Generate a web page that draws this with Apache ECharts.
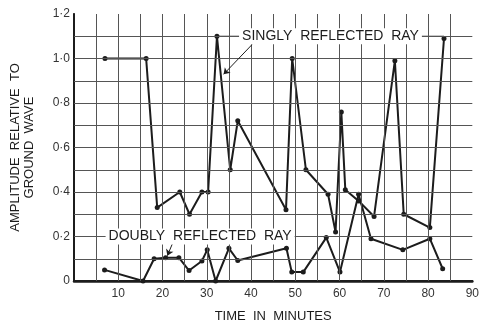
<!DOCTYPE html>
<html>
<head>
<meta charset="utf-8">
<script src="https://cdn.jsdelivr.net/npm/echarts@6/dist/echarts.min.js"></script>
<style>
  html, body { margin: 0; padding: 0; background: #fff; }
  #chart { width: 482px; height: 328px; }
</style>
</head>
<body>
<div id="chart"></div>
<script>
// values: [minutes, amplitude]
const singlyRay = [
  [7, 1.0], [16.3, 1.0], [18.8, 0.33], [23.9, 0.40], [26.1, 0.30], [28.9, 0.40],
  [30.3, 0.40], [32.3, 1.1], [35.3, 0.50], [37, 0.72], [47.9, 0.32], [49.3, 1.0],
  [52.4, 0.50], [57.4, 0.39], [59.1, 0.22], [60.4, 0.76], [61.3, 0.41], [64.3, 0.36],
  [67.8, 0.29], [72.5, 0.99], [74.5, 0.30], [80.4, 0.24], [83.6, 1.09]
];
const doublyRay = [
  [6.9, 0.05], [15.6, 0], [18.1, 0.10], [20.7, 0.105], [23.7, 0.105], [26, 0.047],
  [28.9, 0.09], [30.1, 0.14], [32, 0], [35, 0.147], [37, 0.092], [48, 0.147],
  [49.2, 0.04], [51.8, 0.04], [57, 0.195], [60.1, 0.04], [64.3, 0.39], [67.1, 0.19],
  [74.3, 0.14], [80.4, 0.19], [83.3, 0.055]
];
const xTicks = { min: 0, max: 90, step: 10 };
const yTicks = { min: 0, max: 1.2, step: 0.2 };
// graph-paper rulings (every 5 minutes, every 0.1)
const xRulings = [5, 10, 15, 20, 25, 30, 35, 40, 45, 50, 55, 60, 65, 70, 75, 80, 85];
const yRulings = [0.1, 0.2, 0.3, 0.4, 0.5, 0.6, 0.7, 0.8, 0.9, 1.0, 1.1];

// annotation leaders and arrows, in data units
const singlyLeader = [[32.3, 1.1], [83.6, 1.1]];
const singlyArrow = [[40.2, 1.062], [33.8, 0.929]];
const doublyLeader = [[0, 0.2], [57, 0.2]];
const doublyArrow = [[22.2, 0.166], [21.1, 0.114]];

const font = '"Liberation Sans", Arial, sans-serif';
const ink = '#1c1c1c';
const gridColor = '#555';

function leaderSeries(leader, text) {
  return {
    type: 'line',
    data: leader,
    symbol: 'none',
    silent: true,
    z: 3,
    lineStyle: { color: ink, width: 1 },
    markPoint: {
      silent: true,
      symbol: 'rect',
      symbolSize: 1,
      itemStyle: { color: 'transparent' },
      data: [{ coord: [(leader[0][0] + leader[1][0]) / 2, leader[0][1]] }],
      label: {
        show: true,
        position: 'inside',
        formatter: text,
        color: ink,
        fontFamily: font,
        fontSize: 14,
        backgroundColor: '#fff',
        padding: [1, 3]
      }
    }
  };
}

function arrowMark(arrow) {
  return {
    silent: true,
    animation: false,
    symbol: ['none', 'arrow'],
    symbolSize: 6,
    label: { show: false },
    lineStyle: { color: ink, width: 1, type: 'solid' },
    data: [[{ coord: arrow[0] }, { coord: arrow[1] }]]
  };
}

// top and right edges of the frame
function frameAxis(position, ticks, width) {
  return {
    type: 'value', position: position,
    min: ticks.min, max: ticks.max, interval: ticks.step,
    axisLine: { show: true, lineStyle: { color: ink, width: width } },
    axisTick: { show: false },
    axisLabel: { show: false },
    splitLine: { show: false }
  };
}

const chart = echarts.init(document.getElementById('chart'));
chart.setOption({
  animation: false,
  grid: { left: 74, right: 6, top: 14, bottom: 44 },
  xAxis: [{
    type: 'value',
    min: xTicks.min, max: xTicks.max, interval: xTicks.step,
    name: 'TIME  IN  MINUTES',
    nameLocation: 'middle',
    nameGap: 29,
    nameTextStyle: { color: ink, fontFamily: font, fontSize: 13 },
    axisLine: { show: true, lineStyle: { color: ink, width: 2.5 } },
    axisTick: { show: false },
    axisLabel: {
      color: '#333', fontFamily: font, fontSize: 12, margin: 7,
      formatter: v => (v === 0 ? '' : String(v))
    },
    splitLine: { show: false }
  }, frameAxis('top', xTicks, 2)],
  yAxis: [{
    type: 'value',
    min: yTicks.min, max: yTicks.max, interval: yTicks.step,
    name: 'AMPLITUDE  RELATIVE  TO\nGROUND  WAVE',
    nameLocation: 'middle',
    nameRotate: 90,
    nameGap: 38,
    nameTextStyle: { color: ink, fontFamily: font, fontSize: 13, lineHeight: 14 },
    axisLine: { show: true, lineStyle: { color: ink, width: 2 } },
    axisTick: { show: false },
    axisLabel: {
      color: '#333', fontFamily: font, fontSize: 12, margin: 4,
      formatter: v => (v === 0 ? '0' : v.toFixed(1).replace('.', '\u00b7'))
    },
    splitLine: { show: false }
  }, frameAxis('right', yTicks, 1.5)],
  series: [
    {
      // the ruled paper behind the curves
      name: 'rulings',
      type: 'line',
      data: [[0, 0]],
      symbol: 'none',
      silent: true,
      z: 1,
      lineStyle: { width: 0 },
      markLine: {
        silent: true,
        animation: false,
        symbol: 'none',
        label: { show: false },
        lineStyle: { color: gridColor, width: 1, type: 'solid' },
        data: xRulings.map(v => ({ xAxis: v })).concat(yRulings.map(v => ({ yAxis: v })))
      }
    },
    {
      name: 'Singly reflected ray',
      type: 'line',
      data: singlyRay,
      symbol: 'circle',
      symbolSize: 5,
      z: 4,
      itemStyle: { color: ink },
      lineStyle: { color: ink, width: 2 },
      markLine: arrowMark(singlyArrow)
    },
    {
      name: 'Doubly reflected ray',
      type: 'line',
      data: doublyRay,
      symbol: 'circle',
      symbolSize: 5,
      z: 4,
      itemStyle: { color: ink },
      lineStyle: { color: ink, width: 2 },
      markLine: arrowMark(doublyArrow)
    },
    leaderSeries(singlyLeader, 'SINGLY  REFLECTED  RAY'),
    leaderSeries(doublyLeader, 'DOUBLY  REFLECTED  RAY')
  ]
});
</script>
</body>
</html>
